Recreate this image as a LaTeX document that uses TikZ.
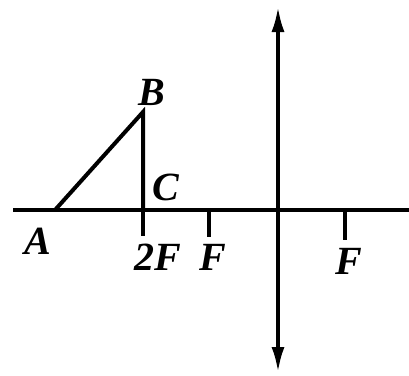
\documentclass[tikz,border=0pt]{standalone}
\usepackage{fontspec}
\setmainfont{Liberation Serif}
\usetikzlibrary{arrows.meta}
\begin{document}
\begin{tikzpicture}[x=1pt,y=-1pt,line width=4pt,
  etichetta/.style={font=\fontsize{40}{42}\selectfont\bfseries\itshape,inner sep=0pt}]
  \useasboundingbox (0,0) rectangle (409,375);
  % Punti
  \coordinate (sx) at (13,210);
  \coordinate (dx) at (409,210);
  \coordinate (A) at (55,210);
  \coordinate (C) at (143,210);
  \coordinate (B) at (143,112);
  \coordinate (F1) at (209,210);
  \coordinate (F2) at (345,210);
  \coordinate (su) at (278,6);
  \coordinate (giu) at (278,373);
  \coordinate (C') at (143,236);
  \coordinate (F1') at (209,237);
  \coordinate (F2') at (345,240);

  % Etichette
  \node[etichetta] (lA) at (38,241) {A};
  \node[etichetta] (lB) at (152,92) {B};
  \node[etichetta] (lC) at (166,187) {C};
  \node[etichetta] (l2F) at (158,257) {2F};
  \node[etichetta] (lF1) at (213,257) {F};
  \node[etichetta] (lF2) at (349,261) {F};

  % Asse e lente
  \draw (sx) -- (dx);
  \draw[{Latex[length=26pt,width=13pt]}-{Latex[length=26pt,width=13pt]}] (su) -- (giu);

  % Oggetto
  \draw[line join=miter] (A) -- (B) -- (C);

  % Tacche
  \draw (C) -- (C');
  \draw (F1) -- (F1');
  \draw (F2) -- (F2');
\end{tikzpicture}
\end{document}
